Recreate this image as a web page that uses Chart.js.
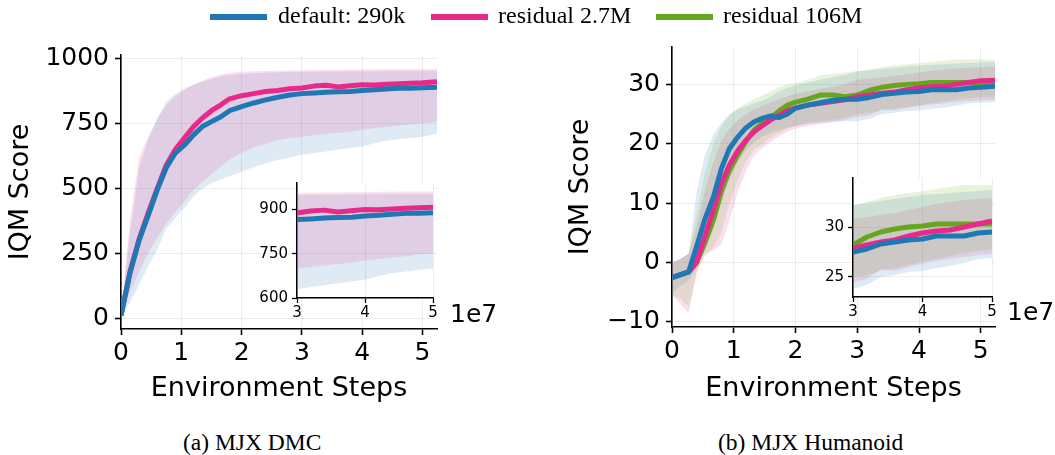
<!DOCTYPE html>
<html>
<head>
<meta charset="utf-8">
<script src="https://cdn.jsdelivr.net/npm/chart.js@4.4.1/dist/chart.umd.min.js"></script>
<style>
  body { margin: 0; background: #fff; }
  #wrap { position: relative; width: 1055px; height: 455px; overflow: hidden; }
  canvas { position: absolute; }
  .sw { position: absolute; top: 14px; width: 57px; height: 6px; }
  .leg { position: absolute; top: 3px; font-family: 'Liberation Serif'; font-size: 24px; line-height: 24px; white-space: nowrap; color: #000; }
  .cap { position: absolute; top: 431px; font-family: 'Liberation Serif'; font-size: 23.5px; line-height: 23.5px; white-space: nowrap; color: #000; }
  .mult { position: absolute; font-family: 'DejaVu Sans'; font-size: 25px; line-height: 25px; color: #000; }
</style>
</head>
<body>
<div id="wrap">
  <canvas id="dmc" width="460" height="420" style="left:0;top:0"></canvas>
  <canvas id="dmcInset" width="200" height="150" style="left:250px;top:170px"></canvas>
  <canvas id="hum" width="495" height="420" style="left:560px;top:0"></canvas>
  <canvas id="humInset" width="200" height="155" style="left:800px;top:165px"></canvas>

  <div class="sw" style="left:210px;background:rgb(31,119,180)"></div>
  <div class="leg" style="left:278px">default: 290k</div>
  <div class="sw" style="left:431px;background:rgb(231,41,138)"></div>
  <div class="leg" style="left:498px">residual 2.7M</div>
  <div class="sw" style="left:656px;background:rgb(102,166,30)"></div>
  <div class="leg" style="left:723px">residual 106M</div>

  <div class="mult" style="left:450px;top:301px">1e7</div>
  <div class="mult" style="left:1007px;top:299px">1e7</div>

  <div class="cap" style="left:183px">(a) MJX DMC</div>
  <div class="cap" style="left:718px">(b) MJX Humanoid</div>
</div>
<script>
// environment steps, in units of 1e7
const stepsDMC = [0, 0.15, 0.3, 0.45, 0.6, 0.75, 0.9, 1.05, 1.2, 1.35, 1.5, 1.65, 1.8, 2.0, 2.2,
  2.4, 2.6, 2.8, 3.0, 3.2, 3.4, 3.6, 3.8, 4.0, 4.2, 4.4, 4.6, 4.8, 5.0, 5.24];

// MJX DMC - IQM score and its confidence band
const dmcDefault = [10, 175, 300, 395, 494, 580, 636, 667, 706, 739, 758, 776, 800, 816, 830,
  842, 852, 861, 866, 868, 871, 873, 874, 878, 881, 884, 887, 887, 889, 891];
const dmcDefaultHi = [15, 330, 580, 690, 770, 835, 865, 885, 900, 912, 922, 932, 938, 942, 945,
  947, 948, 949, 950, 950, 951, 951, 952, 952, 952, 953, 953, 953, 953, 953];
const dmcDefaultLo = [5, 60, 130, 200, 265, 345, 385, 425, 470, 500, 520, 535, 548, 565, 583,
  597, 610, 620, 630, 637, 643, 650, 656, 662, 675, 684, 690, 695, 700, 712];
const dmcRes27 = [10, 180, 305, 405, 500, 590, 650, 695, 738, 772, 800, 822, 846, 858, 866,
  874, 878, 885, 888, 895, 898, 892, 896, 900, 899, 902, 904, 906, 908, 912];
const dmcRes27Hi = [15, 380, 620, 700, 765, 822, 855, 880, 900, 916, 929, 941, 946, 950, 952,
  953, 954, 955, 956, 957, 958, 958, 959, 959, 960, 960, 961, 961, 961, 962];
const dmcRes27Lo = [5, 100, 180, 250, 310, 365, 410, 450, 495, 525, 555, 585, 612, 638, 658,
  673, 686, 695, 700, 705, 710, 715, 720, 727, 732, 737, 742, 748, 752, 758];

const stepsHum = [0, 0.13, 0.27, 0.4, 0.53, 0.67, 0.8, 0.93, 1.07, 1.2, 1.33, 1.47, 1.6, 1.73, 1.87,
  2.0, 2.2, 2.4, 2.6, 2.8, 3.0, 3.2, 3.4, 3.6, 3.8, 4.0, 4.2, 4.4, 4.6, 4.8, 5.0, 5.23];

// MJX Humanoid
const humDefault = [-2.6, -2.1, -1.6, 2.7, 7.2, 11.0, 15.8, 19.2, 21.2, 22.7, 23.7, 24.3, 24.7, 24.4, 25.0,
  26.0, 26.5, 26.9, 27.3, 27.5, 27.5, 27.8, 28.3, 28.5, 28.7, 28.8, 29.1, 29.1, 29.1, 29.4, 29.5, 29.7];
const humDefaultHi = [0, 0.5, 1.5, 12, 18, 21.5, 23.5, 25, 25.8, 26.3, 26.8, 27.3, 28, 28.8, 29.4,
  29.8, 30.3, 30.8, 31.2, 31.6, 32.2, 32.4, 32.6, 32.8, 33.0, 33.2, 33.3, 33.4, 33.5, 33.6, 33.7, 33.8];
const humDefaultLo = [-5.3, -4, -3, -1, 2, 6, 10, 14, 17, 19, 20.3, 21.2, 21.8, 22.3, 22.7,
  23, 23.3, 23.5, 23.7, 23.8, 23.8, 24.2, 25, 25.2, 25.5, 25.6, 25.9, 26.1, 26.4, 26.8, 26.9, 27.0];
const humRes27 = [-2.6, -2.1, -1.6, 0.05, 4.3, 8.8, 13.3, 16.4, 18.9, 20.6, 22.0, 23.1, 24.0, 24.8, 25.6,
  26.0, 26.5, 26.8, 27.1, 27.4, 27.9, 28.2, 28.5, 28.7, 29.1, 29.4, 29.6, 29.7, 30.0, 30.3, 30.6, 30.7];
const humRes27Hi = [0, 0.5, 1.5, 6, 12, 17, 20.5, 22.5, 24, 25, 25.8, 26.4, 27, 27.5, 28,
  28.4, 28.8, 29.2, 29.6, 30, 30.8, 31.0, 31.2, 31.4, 31.7, 32.0, 32.3, 32.5, 32.7, 32.8, 32.9, 33.0];
const humRes27Lo = [-5.5, -7, -8.6, -2, 1.5, 2, 3, 7, 12, 15.5, 18, 19.3, 20.3, 21.2, 22,
  22.5, 23, 23.3, 23.6, 24, 24.5, 24.8, 25.8, 25.6, 26, 26.3, 26.6, 26.8, 27.0, 27.2, 27.3, 27.4];
const humRes106 = [-2.6, -2.1, -1.6, 0, 3.2, 7.1, 12, 15.5, 18.2, 20.5, 22.3, 23.6, 24.4, 25.5, 26.5,
  27.0, 27.5, 28.2, 28.2, 27.9, 28.2, 29.0, 29.5, 29.8, 30.0, 30.1, 30.3, 30.3, 30.3, 30.3, 30.3, 30.4];
const humRes106Hi = [0, 0.5, 1.5, 8, 15, 20, 23, 24.8, 26, 26.8, 27.5, 28.2, 28.8, 29.5, 30,
  30.2, 30.8, 31.5, 31.8, 32, 32.2, 32.5, 32.9, 33.2, 33.4, 33.6, 33.8, 34.0, 34.2, 34.2, 34.2, 34.1];
const humRes106Lo = [-5.5, -6, -7.5, -1.5, 1, 2.5, 5, 10, 14, 17, 19, 20, 21, 21.8, 22.5,
  23, 23.5, 23.8, 24, 24.3, 25, 25.2, 25.6, 25.9, 26.2, 26.5, 26.8, 27.1, 27.4, 27.6, 27.8, 27.9];

// tick values
const mainXTicks = [0, 1, 2, 3, 4, 5];
const insetXTicks = [3, 4, 5];
const dmcYTicks = [0, 250, 500, 750, 1000];
const dmcInsetYTicks = [600, 750, 900];
const humYTicks = [-10, 0, 10, 20, 30];
const humInsetYTicks = [25, 30];

const BLUE = 'rgb(31,119,180)';
const PINK = 'rgb(231,41,138)';
const GREEN = 'rgb(102,166,30)';

Chart.defaults.font.family = 'DejaVu Sans';
Chart.defaults.color = '#000';
Chart.defaults.animation = false;

function shade(c) {
    return c.replace('rgb', 'rgba').replace(')', ',0.15)');
}

function pts(xs, ys) {
    return ys.map((y, i) => ({ x: xs[i], y: y }));
}

// band (upper, lower filled to upper) + mean line
function series(xs, mean, hi, lo, color, order, clip) {
    return [
        { data: pts(xs, hi), borderWidth: 0, pointRadius: 0, fill: false, order: 10, clip: clip },
        { data: pts(xs, lo), borderWidth: 0, pointRadius: 0, fill: '-1', backgroundColor: shade(color), order: 10, clip: clip },
        { data: pts(xs, mean), borderColor: color, borderWidth: 5, pointRadius: 0, fill: false,
          borderJoinStyle: 'round', order: order, clip: clip }
    ];
}

const fmt = v => String(v).replace('-', '\u2212');
const fixTicks = vals => scale => { scale.ticks = vals.map(v => ({ value: v })); };

const whiteArea = {
    id: 'whiteArea',
    beforeDraw(chart) {
        const a = chart.chartArea;
        chart.ctx.save();
        chart.ctx.fillStyle = '#fff';
        chart.ctx.fillRect(a.left, a.top, a.right - a.left, a.bottom - a.top);
        chart.ctx.restore();
    }
};

function mainChart(id, datasets, xs, ymin, ymax, yTicks, yWidth, pad) {
    return new Chart(document.getElementById(id), {
        type: 'line',
        data: { datasets: datasets },
        options: {
            responsive: false,
            layout: { padding: pad },
            plugins: { legend: { display: false }, tooltip: { enabled: false } },
            scales: {
                x: {
                    type: 'linear', min: 0, max: xs[xs.length - 1],
                    afterBuildTicks: fixTicks(mainXTicks),
                    afterFit: s => { s.height = pad.xHeight; },
                    border: { color: '#000', width: 1.6 },
                    grid: { color: 'rgba(0,0,0,0.07)', tickColor: '#000', tickLength: 6, tickWidth: 1.6 },
                    ticks: { font: { size: 25 }, padding: 3, maxRotation: 0, autoSkip: false, callback: fmt },
                    title: { display: true, text: 'Environment Steps', font: { size: 27 }, padding: { top: 0, bottom: 15 } }
                },
                y: {
                    min: ymin, max: ymax,
                    afterBuildTicks: fixTicks(yTicks),
                    afterFit: s => { s.width = yWidth; },
                    border: { color: '#000', width: 1.6 },
                    grid: { color: 'rgba(0,0,0,0.07)', tickColor: '#000', tickLength: 6, tickWidth: 1.6 },
                    ticks: { font: { size: 25 }, padding: 6, autoSkip: false, callback: fmt },
                    title: { display: true, text: 'IQM Score', font: { size: 27 }, padding: { top: 5, bottom: 0 } }
                }
            }
        }
    });
}

function insetChart(id, datasets, ymin, ymax, yTicks, yWidth, pad) {
    return new Chart(document.getElementById(id), {
        type: 'line',
        data: { datasets: datasets },
        plugins: [whiteArea],
        options: {
            responsive: false,
            layout: { padding: pad },
            plugins: { legend: { display: false }, tooltip: { enabled: false } },
            scales: {
                x: {
                    type: 'linear', min: 3, max: 5,
                    afterBuildTicks: fixTicks(insetXTicks),
                    afterFit: s => { s.height = pad.xHeight; },
                    border: { color: '#000', width: 1.5 },
                    grid: { color: 'rgba(0,0,0,0.07)', tickColor: '#000', tickLength: 5, tickWidth: 1.3 },
                    ticks: { font: { size: 15 }, padding: 1, maxRotation: 0, autoSkip: false, callback: fmt }
                },
                y: {
                    min: ymin, max: ymax,
                    afterBuildTicks: fixTicks(yTicks),
                    afterFit: s => { s.width = yWidth; },
                    border: { color: '#000', width: 1.5 },
                    grid: { color: 'rgba(0,0,0,0.07)', tickColor: '#000', tickLength: 5, tickWidth: 1.3 },
                    ticks: { font: { size: 15 }, padding: 4, autoSkip: false, callback: fmt }
                }
            }
        }
    });
}

const dmcSets = clip => [].concat(
    series(stepsDMC, dmcRes27, dmcRes27Hi, dmcRes27Lo, PINK, 2, clip),
    series(stepsDMC, dmcDefault, dmcDefaultHi, dmcDefaultLo, BLUE, 1, clip)
);
const humSets = clip => [].concat(
    series(stepsHum, humRes106, humRes106Hi, humRes106Lo, GREEN, 3, clip),
    series(stepsHum, humRes27, humRes27Hi, humRes27Lo, PINK, 2, clip),
    series(stepsHum, humDefault, humDefaultHi, humDefaultLo, BLUE, 1, clip)
);

mainChart('dmc', dmcSets(), stepsDMC, -42, 1015, dmcYTicks, 121,
    { top: 55, right: 23, left: 0, bottom: 0, xHeight: 91 });
mainChart('hum', humSets(), stepsHum, -10.9, 36.3, humYTicks, 112,
    { top: 47, right: 60, left: 0, bottom: 0, xHeight: 93 });

insetChart('dmcInset', dmcSets(0), 600, 990, dmcInsetYTicks, 47,
    { top: 12, right: 17, left: 0, bottom: 0, xHeight: 22 });
insetChart('humInset', humSets(0), 23, 34.9, humInsetYTicks, 53,
    { top: 11, right: 8, left: 0, bottom: 0, xHeight: 23 });
</script>
</body>
</html>
